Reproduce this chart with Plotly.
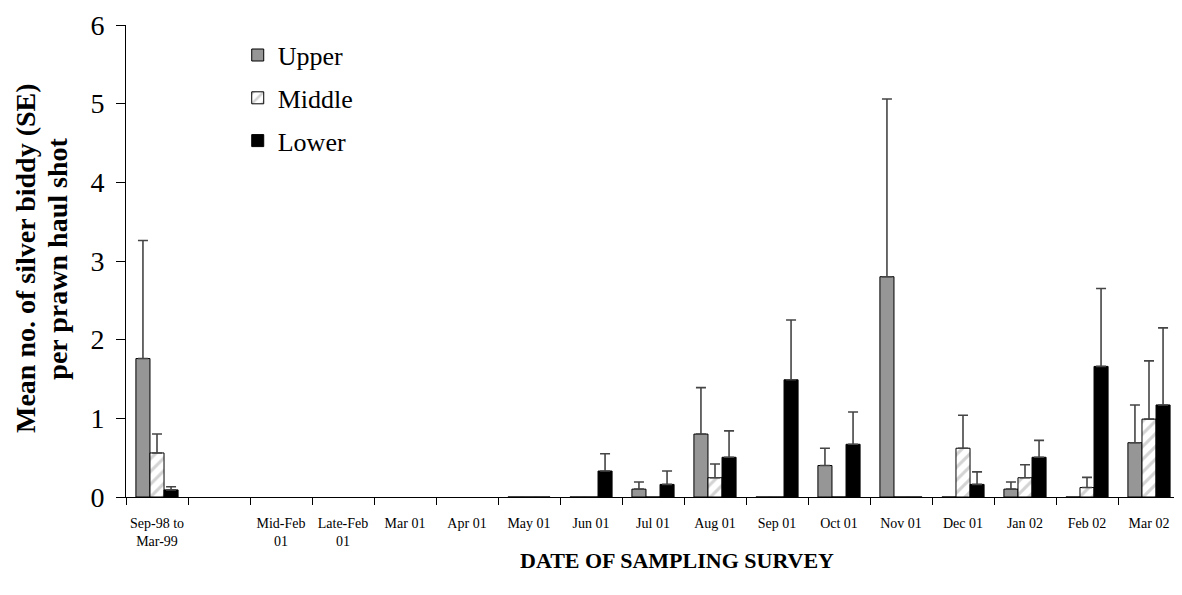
import plotly.graph_objects as go

# survey periods (blank slot kept between 1999 and 2001 surveys)
surveys = ["Sep-98 to<br>Mar-99", " ", "Mid-Feb<br>01", "Late-Feb<br>01", "Mar 01", "Apr 01",
           "May 01", "Jun 01", "Jul 01", "Aug 01", "Sep 01", "Oct 01", "Nov 01",
           "Dec 01", "Jan 02", "Feb 02", "Mar 02"]

upper = [1.76, None, None, None, None, None, 0, 0, 0.10, 0.80, 0, 0.40, 2.80, 0, 0.10, 0, 0.69]
upper_se = [1.50, None, None, None, None, None, 0, 0, 0.09, 0.59, 0, 0.22, 2.26, 0, 0.09, 0, 0.48]

middle = [0.56, None, None, None, None, None, 0, 0, 0, 0.245, 0, 0, 0, 0.62, 0.245, 0.12, 0.99]
middle_se = [0.24, None, None, None, None, None, 0, 0, 0, 0.175, 0, 0, 0, 0.42, 0.165, 0.13, 0.74]

lower = [0.09, None, None, None, None, None, 0, 0.33, 0.16, 0.505, 1.49, 0.67, 0, 0.16, 0.505, 1.66, 1.17]
lower_se = [0.04, None, None, None, None, None, 0, 0.22, 0.17, 0.335, 0.76, 0.41, 0, 0.16, 0.215, 0.99, 0.98]

FONT = "Times New Roman, Liberation Serif, serif"
ERR = dict(type="data", symmetric=False, color="#454545", thickness=1.6, width=5)

fig = go.Figure()
fig.add_trace(go.Bar(name="Upper", x=surveys, y=upper, legendgroup="upper",
                     marker=dict(color="#969696", line=dict(color="black", width=1)),
                     error_y=dict(ERR, array=upper_se, arrayminus=[0] * len(upper))))
fig.add_trace(go.Bar(name="Middle", x=surveys, y=middle, legendgroup="middle",
                     marker=dict(color="white", line=dict(color="black", width=1),
                                 pattern=dict(shape="/", fgcolor="#a8a8a8", bgcolor="white",
                                              size=9, solidity=0.35)),
                     error_y=dict(ERR, array=middle_se, arrayminus=[0] * len(middle))))
fig.add_trace(go.Bar(name="Lower", x=surveys, y=lower, legendgroup="lower",
                     marker=dict(color="black", line=dict(color="black", width=1)),
                     error_y=dict(ERR, array=lower_se, arrayminus=[0] * len(lower))))

# page body has an 8px margin, so the figure is sized to fit the 1182x595 window
fig.update_layout(
    width=1174, height=587,
    barmode="group", bargap=0.32, bargroupgap=0,
    plot_bgcolor="white", paper_bgcolor="white",
    font=dict(family=FONT, color="black"),
    margin=dict(l=118, r=2, t=13, b=98),
    legend=dict(x=0.106, y=0.986, xanchor="left", yanchor="top",
                font=dict(size=26, family=FONT), tracegroupgap=6,
                bgcolor="rgba(0,0,0,0)"),
)
fig.update_xaxes(type="category", categoryorder="array", categoryarray=surveys,
                 showline=True, linecolor="black", linewidth=1,
                 ticks="outside", tickson="boundaries", ticklen=7, tickcolor="black",
                 tickfont=dict(size=14, family=FONT), tickangle=0, showgrid=False,
                 ticklabelstandoff=13)
fig.update_yaxes(range=[0, 6], dtick=1, showline=True, linecolor="black", linewidth=1,
                 ticks="outside", ticklen=9, tickcolor="black", showgrid=False,
                 zeroline=False, tickfont=dict(size=28, family=FONT), ticklabelstandoff=6,
                 ticklabeloverflow="allow")

fig.add_annotation(text="<b>DATE OF SAMPLING SURVEY</b>", xref="paper", yref="paper",
                   x=0.523, y=-0.134, xanchor="center", yanchor="middle",
                   showarrow=False, font=dict(size=22, family=FONT))
# y-axis title, one annotation per line to match the tight line spacing
fig.add_annotation(text="<b>Mean no. of silver biddy (SE)</b>",
                   xref="paper", yref="paper", x=-0.096, y=0.506, xanchor="center",
                   yanchor="middle", textangle=-90,
                   showarrow=False, font=dict(size=28, family=FONT))
fig.add_annotation(text="<b>per prawn haul shot</b>",
                   xref="paper", yref="paper", x=-0.065, y=0.506, xanchor="center",
                   yanchor="middle", textangle=-90,
                   showarrow=False, font=dict(size=28, family=FONT))

fig.write_html("out.html")
